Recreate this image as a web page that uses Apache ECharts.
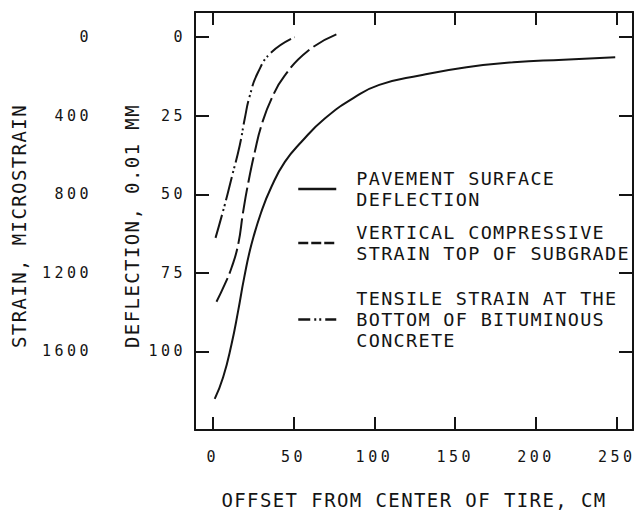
<!DOCTYPE html>
<html>
<head>
<meta charset="utf-8">
<script src="https://cdn.jsdelivr.net/npm/echarts@6/dist/echarts.min.js"></script>
<style>
  html, body { margin: 0; padding: 0; background: #fff; }
  #chart { width: 635px; height: 514px; }
  /* typewriter-like spacing of the original lettering */
  #chart text { letter-spacing: 1.4px; }
  #chart text[style*="15px"] { letter-spacing: 3.5px; }
  #chart text[style*="18.5px"] { letter-spacing: 1.3px; }
</style>
</head>
<body>
<div id="chart"></div>
<script>
const offsetTicks = [0, 50, 100, 150, 200, 250]
const deflectionTicks = [0, 25, 50, 75, 100]
const strainTicks = [0, 400, 800, 1200, 1600]

// pavement surface deflection, 0.01 mm
const pavementOffset = [1.2, 6.4, 11.6, 15.7, 19.4, 23.9, 30.1, 36.3, 44.6, 54.9, 69.3, 87.9, 103, 128, 157, 186, 217, 249]
const pavementDeflection = [115.1, 108.2, 97.7, 87.1, 76.6, 66, 55.5, 47.6, 39.7, 33.3, 25.9, 19.1, 15.2, 12.2, 9.6, 8, 7.2, 6.4]

// vertical compressive strain, top of subgrade, microstrain
const subgradeOffset = [2.3, 7.4, 11.6, 15.7, 18.8, 21.9, 26, 30.1, 36.3, 44.6, 59, 76.5]
const subgradeStrain = [1347, 1259, 1174, 1056, 888, 744, 584, 450, 314, 195, 69, -14]

// tensile strain, bottom of bituminous concrete, microstrain
const tensileOffset = [1.7, 7.4, 11.6, 16.7, 19.8, 22.9, 28, 36.3, 50.7]
const tensileStrain = [1022, 854, 718, 550, 414, 298, 179, 77, 0]

const legendText = {
  pavement: 'PAVEMENT SURFACE\nDEFLECTION',
  subgrade: 'VERTICAL COMPRESSIVE\nSTRAIN TOP OF SUBGRADE',
  tensile: 'TENSILE STRAIN AT THE\nBOTTOM OF BITUMINOUS\nCONCRETE'
}

const FONT = 'DejaVu Sans Mono'
const INK = '#141414'

function pairs(xs, ys) {
  return xs.map((x, i) => [x, ys[i]])
}

const boxLine = { show: true, onZero: false, lineStyle: { color: INK, width: 2 } }
const tickFont = { fontFamily: FONT, fontSize: 15, color: INK, formatter: v => String(v) }
const titleFont = { fontFamily: FONT, fontSize: 19, color: INK }
// the vertical titles sit a little below the middle of the frame
const sideTitleFont = Object.assign({ padding: [0, 10, 0, 0] }, titleFont)

function legendAt(name, top, dash) {
  return {
    data: [{ name: name, lineStyle: { color: INK, width: 2.5, type: dash } }],
    left: 297,
    top: top,
    padding: 0,
    itemWidth: 38,
    itemHeight: 14,
    selectedMode: false,
    itemStyle: { opacity: 0 },
    formatter: n => legendText[n],
    textStyle: { fontFamily: FONT, fontSize: 18.5, lineHeight: 21, color: INK, padding: [0, 0, 0, 15] }
  }
}

const chart = echarts.init(document.getElementById('chart'), null, { renderer: 'svg' })
chart.setOption({
  animation: false,
  grid: { left: 195, right: 2, top: 12, bottom: 81, containLabel: false },
  legend: [
    legendAt('pavement', 168, 'solid'),
    legendAt('subgrade', 222, [10, 3]),
    legendAt('tensile', 288, [12, 4, 2, 3, 2, 4])
  ],
  xAxis: [
    {
      type: 'value',
      position: 'bottom',
      min: -11,
      max: 260,
      axisLine: boxLine,
      axisTick: { show: true, inside: true, length: 13, lineStyle: { color: INK, width: 2 }, customValues: offsetTicks },
      axisLabel: Object.assign({ customValues: offsetTicks, margin: 19 }, tickFont),
      splitLine: { show: false },
      name: 'OFFSET FROM CENTER OF TIRE, CM',
      nameLocation: 'middle',
      nameGap: 60,
      nameTextStyle: titleFont
    },
    {
      type: 'value',
      position: 'top',
      min: -11,
      max: 260,
      axisLine: boxLine,
      axisTick: { show: true, inside: true, length: 13, lineStyle: { color: INK, width: 2 }, customValues: offsetTicks },
      axisLabel: { show: false },
      splitLine: { show: false }
    }
  ],
  yAxis: [
    {
      type: 'value',
      position: 'left',
      inverse: true,
      min: -8,
      max: 125,
      axisLine: boxLine,
      axisTick: { show: true, inside: true, length: 14, lineStyle: { color: INK, width: 2 }, customValues: deflectionTicks },
      axisLabel: Object.assign({ customValues: deflectionTicks, margin: 9 }, tickFont),
      splitLine: { show: false },
      name: 'DEFLECTION, 0.01 MM',
      nameLocation: 'middle',
      nameGap: 54,
      nameTextStyle: sideTitleFont
    },
    {
      type: 'value',
      position: 'left',
      inverse: true,
      min: -128,
      max: 2000,
      axisLine: { show: false, onZero: false },
      axisTick: { show: false },
      axisLabel: Object.assign({ customValues: strainTicks, margin: 103 }, tickFont),
      splitLine: { show: false },
      name: 'STRAIN, MICROSTRAIN',
      nameLocation: 'middle',
      nameGap: 167,
      nameTextStyle: sideTitleFont
    },
    {
      type: 'value',
      position: 'right',
      inverse: true,
      min: -8,
      max: 125,
      axisLine: boxLine,
      axisTick: { show: true, inside: true, length: 14, lineStyle: { color: INK, width: 2 }, customValues: deflectionTicks },
      axisLabel: { show: false },
      splitLine: { show: false }
    }
  ],
  series: [
    {
      name: 'pavement',
      type: 'line',
      xAxisIndex: 0,
      yAxisIndex: 0,
      data: pairs(pavementOffset, pavementDeflection),
      smooth: 0.5,
      symbol: 'none',
      silent: true,
      lineStyle: { color: INK, width: 2 }
    },
    {
      name: 'subgrade',
      type: 'line',
      xAxisIndex: 0,
      yAxisIndex: 1,
      data: pairs(subgradeOffset, subgradeStrain),
      smooth: 0.5,
      symbol: 'none',
      silent: true,
      lineStyle: { color: INK, width: 2, type: [26, 5] }
    },
    {
      name: 'tensile',
      type: 'line',
      xAxisIndex: 0,
      yAxisIndex: 1,
      data: pairs(tensileOffset, tensileStrain),
      smooth: 0.5,
      symbol: 'none',
      silent: true,
      lineStyle: { color: INK, width: 2, type: [24, 4, 2, 3, 2, 4] }
    }
  ]
})
</script>
</body>
</html>
